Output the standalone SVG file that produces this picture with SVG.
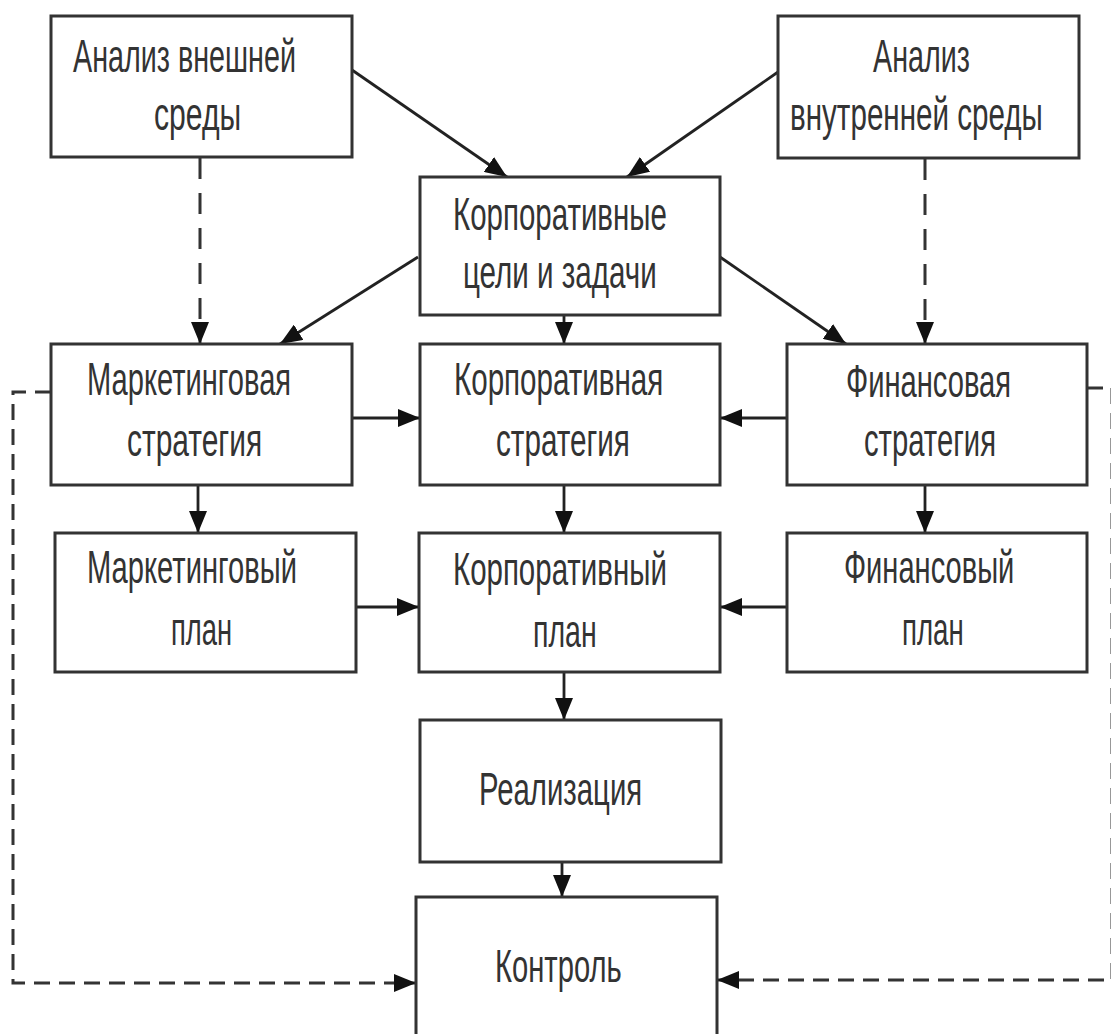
<svg xmlns="http://www.w3.org/2000/svg" width="1111" height="1034" viewBox="0 0 1111 1034">
<style>
.box{fill:#fff;stroke:#333;stroke-width:3}
.t{font-family:"Liberation Sans",Arial,sans-serif;font-size:46px;fill:#333}
.c{fill:none;stroke:#222;stroke-width:2.8}
.d{fill:none;stroke:#333;stroke-width:3;stroke-dasharray:21 14}
.d2{fill:none;stroke:#333;stroke-width:3;stroke-dasharray:16 9}
</style>
<defs>
<marker id="ah" markerUnits="userSpaceOnUse" markerWidth="22" markerHeight="18" refX="22" refY="9" orient="auto">
<path d="M0,0 L22,9 L0,18 z" fill="#111"/>
</marker>
</defs>
<rect width="1111" height="1034" fill="#fff"/>
<g id="connectors">
<line class="c" x1="352" y1="70" x2="507" y2="177" marker-end="url(#ah)"/>
<line class="c" x1="778" y1="72" x2="627" y2="177" marker-end="url(#ah)"/>
<line class="c" x1="418" y1="257" x2="280" y2="344" marker-end="url(#ah)"/>
<line class="c" x1="720" y1="257" x2="846" y2="344" marker-end="url(#ah)"/>
<line class="c" x1="564" y1="315" x2="564" y2="344" marker-end="url(#ah)"/>
<line class="d" x1="200" y1="158" x2="200" y2="344" marker-end="url(#ah)"/>
<line class="d" x1="925" y1="159" x2="925" y2="344" marker-end="url(#ah)"/>
<line class="c" x1="352" y1="418" x2="420" y2="418" marker-end="url(#ah)"/>
<line class="c" x1="787" y1="418" x2="720" y2="418" marker-end="url(#ah)"/>
<line class="c" x1="198" y1="485" x2="198" y2="533" marker-end="url(#ah)"/>
<line class="c" x1="564" y1="485" x2="564" y2="533" marker-end="url(#ah)"/>
<line class="c" x1="925" y1="485" x2="925" y2="533" marker-end="url(#ah)"/>
<line class="c" x1="356" y1="607" x2="419" y2="607" marker-end="url(#ah)"/>
<line class="c" x1="787" y1="607" x2="720" y2="607" marker-end="url(#ah)"/>
<line class="c" x1="564" y1="672" x2="564" y2="720" marker-end="url(#ah)"/>
<line class="c" x1="562" y1="862" x2="562" y2="897" marker-end="url(#ah)"/>
<path class="d2" d="M51,392 H13 V983 H416" marker-end="url(#ah)"/>
<path class="d2" d="M1087,388 H1112 V980 H717" marker-end="url(#ah)"/>
</g>
<g id="n1"><rect class="box" x="51" y="16" width="301" height="141"/>
<text class="t" transform="translate(73,72) scale(0.65,1)" textLength="343" lengthAdjust="spacingAndGlyphs">Анализ внешней</text>
<text class="t" transform="translate(154,130) scale(0.65,1)" textLength="134" lengthAdjust="spacingAndGlyphs">среды</text></g>
<g id="n2"><rect class="box" x="778" y="16" width="301" height="142"/>
<text class="t" transform="translate(873,72) scale(0.65,1)" textLength="149" lengthAdjust="spacingAndGlyphs">Анализ</text>
<text class="t" transform="translate(790,130) scale(0.65,1)" textLength="389" lengthAdjust="spacingAndGlyphs">внутренней среды</text></g>
<g id="n3"><rect class="box" x="420" y="177" width="300" height="138"/>
<text class="t" transform="translate(453,230) scale(0.65,1)" textLength="329" lengthAdjust="spacingAndGlyphs">Корпоративные</text>
<text class="t" transform="translate(463,288) scale(0.65,1)" textLength="298" lengthAdjust="spacingAndGlyphs">цели и задачи</text></g>
<g id="n4"><rect class="box" x="51" y="344" width="301" height="141"/>
<text class="t" transform="translate(87,395) scale(0.65,1)" textLength="314" lengthAdjust="spacingAndGlyphs">Маркетинговая</text>
<text class="t" transform="translate(127,456) scale(0.65,1)" textLength="208" lengthAdjust="spacingAndGlyphs">стратегия</text></g>
<g id="n5"><rect class="box" x="420" y="344" width="300" height="141"/>
<text class="t" transform="translate(454,395) scale(0.65,1)" textLength="322" lengthAdjust="spacingAndGlyphs">Корпоративная</text>
<text class="t" transform="translate(496,456) scale(0.65,1)" textLength="206" lengthAdjust="spacingAndGlyphs">стратегия</text></g>
<g id="n6"><rect class="box" x="787" y="344" width="300" height="141"/>
<text class="t" transform="translate(846,397) scale(0.65,1)" textLength="254" lengthAdjust="spacingAndGlyphs">Финансовая</text>
<text class="t" transform="translate(864,456) scale(0.65,1)" textLength="203" lengthAdjust="spacingAndGlyphs">стратегия</text></g>
<g id="n7"><rect class="box" x="55" y="533" width="301" height="139"/>
<text class="t" transform="translate(87,583) scale(0.65,1)" textLength="323" lengthAdjust="spacingAndGlyphs">Маркетинговый</text>
<text class="t" transform="translate(171,645) scale(0.65,1)" textLength="94" lengthAdjust="spacingAndGlyphs">план</text></g>
<g id="n8"><rect class="box" x="419" y="533" width="301" height="139"/>
<text class="t" transform="translate(453,585) scale(0.65,1)" textLength="329" lengthAdjust="spacingAndGlyphs">Корпоративный</text>
<text class="t" transform="translate(533,647) scale(0.65,1)" textLength="98" lengthAdjust="spacingAndGlyphs">план</text></g>
<g id="n9"><rect class="box" x="787" y="533" width="300" height="139"/>
<text class="t" transform="translate(844,583) scale(0.65,1)" textLength="262" lengthAdjust="spacingAndGlyphs">Финансовый</text>
<text class="t" transform="translate(902,645) scale(0.65,1)" textLength="95" lengthAdjust="spacingAndGlyphs">план</text></g>
<g id="n10"><rect class="box" x="420" y="720" width="301" height="142"/>
<text class="t" transform="translate(479,805) scale(0.65,1)" textLength="251" lengthAdjust="spacingAndGlyphs">Реализация</text></g>
<g id="n11"><rect class="box" x="416" y="897" width="301" height="150"/>
<text class="t" transform="translate(495,982) scale(0.65,1)" textLength="195" lengthAdjust="spacingAndGlyphs">Контроль</text></g>
</svg>
